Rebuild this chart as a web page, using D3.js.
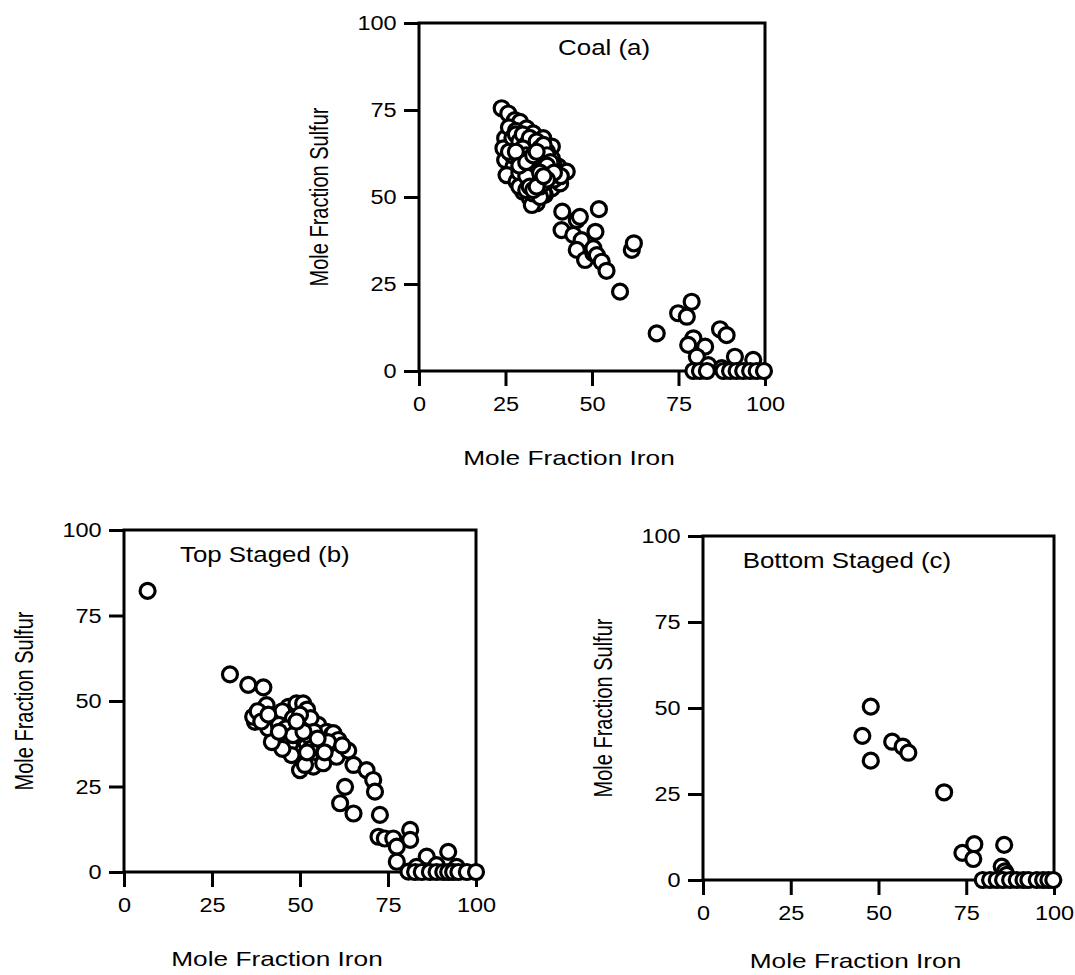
<!DOCTYPE html>
<html>
<head>
<meta charset="utf-8">
<script src="https://cdn.jsdelivr.net/npm/d3@7"></script>
<style>
  html, body { margin: 0; padding: 0; background: #fff; }
  svg { display: block; }
  text { font-family: "Liberation Sans", Arial, Helvetica, sans-serif; fill: #000; }
</style>
</head>
<body>
<svg id="chart" width="1075" height="975"></svg>
<script>
// values (mole fraction, %)
var coalIron = [
  23.9, 25.8, 27.7, 29.2, 29.7, 31.1, 33, 35.9, 32.1, 24.9, 24.4, 28.2, 34, 36.4, 38.4, 38.4,
  24.9, 29.2, 31.6, 34, 36.9, 40.3, 42.7, 27.3, 25.3, 30.1, 35, 33, 28.2, 34.5, 38.4, 40.8,
  30.1, 36.4, 32.1, 34, 32.6, 31, 33, 35, 37, 32, 34, 36, 38, 30, 33, 36, 39, 31,
  26, 27, 28, 30, 31, 32, 33, 34, 35, 36, 37, 39, 35, 33, 31, 29, 27, 26, 30, 32,
  34, 37, 39, 41, 36, 33, 35, 29, 31,
  28, 29, 30, 31, 32, 33, 34, 35, 36, 37, 38, 30, 31, 32, 33, 34, 35, 36, 37, 38,
  39, 32, 33, 34, 35, 36, 37, 31, 32, 33, 34, 29, 30, 28, 29, 31, 35, 36, 33, 34,
  41.4, 45.6, 52, 46.5, 41.2, 44.6, 47, 45.6, 48, 50.4, 50.4, 51.4, 52.8, 54.2, 51,
  61.5, 62.1, 58.1, 68.7, 74.9, 77.4, 78.8, 79.3, 77.8, 82.7, 80.3, 83.6, 87, 88.9, 91.3, 96.6, 87.5,
  79.3, 81.2, 83.2, 88, 89.9, 91.8, 93.7, 95.7, 97.6, 99.7
];
var coalSulfur = [
  75.5, 74, 72.1, 71.6, 68.8, 69.7, 68.3, 66.9, 65.9, 66.9, 64, 64.5, 62.1, 63, 64.5, 61.1,
  60.6, 60.2, 60.2, 59, 59.2, 58.7, 57.3, 58.7, 56.3, 56.3, 56.8, 54.9, 54.4, 52.5, 52.5, 53.9,
  51.5, 50.6, 49.6, 48.2, 47.7, 63, 61, 64, 61, 57, 58, 55, 57, 62, 66, 53, 55, 54,
  70, 67, 69, 66, 67, 63, 64, 65, 62, 60, 63, 59, 58, 59, 58, 57, 62, 63, 59, 55,
  56, 57, 58, 56, 51, 51, 50, 53, 52,
  68, 66, 68, 65, 67, 63, 66, 64, 65, 62, 60, 64, 62, 61, 60, 61, 60, 58, 59, 56,
  57, 58, 57, 55, 53, 54, 55, 56, 53, 52, 53, 61, 60, 63, 59, 60, 57, 56, 62, 63,
  45.8, 43.4, 46.5, 44.3, 40.5, 39.1, 37.6, 34.8, 31.9, 33.8, 35.3, 33.3, 31.4, 28.8, 40,
  34.8, 36.7, 22.8, 10.8, 16.6, 15.6, 19.9, 9.4, 7.5, 7, 4.1, 1.7, 12, 10.3, 4.1, 3.2, 0.8,
  0, 0, 0, 0, 0, 0, 0, 0, 0, 0
];

var topIron = [
  6.7, 30.1, 35.3, 39.6, 40.5, 40.5, 37.2, 36.7, 41, 43.8, 44.8, 46.7, 49, 50.9, 52,
  47.2, 47.6, 47.6, 50, 50, 51.9, 52.8, 52.8, 53.8, 51.4, 55.2, 56.6, 57.6, 59, 59.5, 60.9,
  59.5, 60.4, 63.7, 65.2, 62.8, 61.4, 65.2, 68.9, 70.8, 71.3, 72.7,
  43, 45, 48, 49, 53, 54, 56, 58, 62, 45, 44, 38, 42,
  46, 48, 50, 51, 53, 55, 57, 39, 41, 44, 49, 52,
  72.3, 74.1, 76.5, 81.3, 81.3, 77.5, 77.5, 86, 92.1, 80.8, 83.1, 88.8, 94.5,
  82.7, 84.6, 86.9, 88.8, 90.7, 92.1, 93.5, 95, 97.4, 100
];
var topSulfur = [
  82.2, 57.8, 54.7, 54, 48.8, 45.9, 43.9, 45.4, 42, 39.1, 44.9, 48.3, 49.3, 49.3, 47.5,
  37.6, 34.2, 41.5, 43.5, 29.8, 37.6, 39.6, 33.7, 30.8, 31.3, 43, 31.8, 41, 40.1, 40.6, 38.6,
  35.7, 33.7, 35.5, 31.3, 24.9, 20.1, 17.1, 29.8, 26.9, 23.5, 16.7,
  45, 47, 45, 40, 45, 41, 37, 38, 37, 36, 43, 47, 38,
  42, 40, 46, 41, 36, 39, 35, 44, 46, 41, 44, 35,
  10.3, 9.8, 9.8, 12.3, 9.4, 7.4, 3, 4.5, 5.9, 0.1, 1.5, 2, 1.5,
  0, 0, 0, 0, 0, 0, 0, 0, 0, 0
];

var bottomIron = [
  47.8, 45.4, 47.8, 53.9, 56.9, 58.5, 68.7, 73.9, 77.3, 77, 85.8, 85.1, 86, 86.5,
  79.7, 81.8, 83.7, 85.5, 87.5, 89.4, 91.3, 92.7, 95.1, 96.9, 98.4, 99.8
];
var bottomSulfur = [
  50.4, 41.9, 34.7, 40.2, 38.8, 37, 25.5, 7.9, 10.4, 6.1, 10.2, 3.9, 2.5, 1.5,
  0, 0, 0, 0, 0, 0, 0, 0, 0, 0, 0, 0
];

var tickValues = [0, 25, 50, 75, 100];
var titles = ['Coal (a)', 'Top Staged (b)', 'Bottom Staged (c)'];
var xTitle = 'Mole Fraction Iron';
var yTitle = 'Mole Fraction Sulfur';

// layout of the three panels (pixel frame of each plot)
var panels = [
  { left: 419, right: 765, top: 23, bottom: 371, titleAt: 53.5, xLabelGap: 86, iron: coalIron, sulfur: coalSulfur },
  { left: 124, right: 476, top: 530, bottom: 872, titleAt: 40, xLabelGap: 86, iron: topIron, sulfur: topSulfur },
  { left: 703, right: 1054, top: 536, bottom: 880, titleAt: 41, xLabelGap: 80, iron: bottomIron, sulfur: bottomSulfur }
];

var svg = d3.select('#chart');

// the scan is wider than tall, so text gets a horizontal stretch
function addLabel(g, x, y, str, size, stretch, rotate) {
  g.append('text')
    .attr('transform', 'translate(' + x + ',' + y + ') scale(' + stretch + ',1)' + (rotate ? ' rotate(-90)' : ''))
    .attr('text-anchor', 'middle')
    .attr('dominant-baseline', 'central')
    .style('font-size', size + 'px')
    .text(str);
}

panels.forEach(function(p, i) {
  var x = d3.scaleLinear().domain([0, 100]).range([p.left, p.right]);
  var y = d3.scaleLinear().domain([0, 100]).range([p.bottom, p.top]);
  var g = svg.append('g');

  var xAxis = g.append('g')
    .attr('transform', 'translate(0,' + p.bottom + ')')
    .call(d3.axisBottom(x).tickValues(tickValues).tickSize(15).tickPadding(10).tickSizeOuter(0));
  var yAxis = g.append('g')
    .attr('transform', 'translate(' + p.left + ',0)')
    .call(d3.axisLeft(y).tickValues(tickValues).tickSize(15).tickPadding(5).tickSizeOuter(0));

  [xAxis, yAxis].forEach(function(a) {
    a.select('.domain').remove();
    a.selectAll('line').attr('stroke', '#000').attr('stroke-width', 3);
    a.selectAll('text')
      .style('font-size', '21px')
      .style('fill', '#000')
      .attr('transform', 'scale(1.12,1)');
  });

  g.append('rect')
    .attr('x', x(0)).attr('y', y(100))
    .attr('width', x(100) - x(0)).attr('height', y(0) - y(100))
    .attr('fill', 'none').attr('stroke', '#000').attr('stroke-width', 3);

  g.selectAll('circle')
    .data(p.iron.map(function(v, k) { return [v, p.sulfur[k]]; }))
    .enter().append('circle')
    .attr('cx', function(d) { return x(d[0]); })
    .attr('cy', function(d) { return y(d[1]); })
    .attr('r', 7.5)
    .attr('fill', '#fff')
    .attr('stroke', '#000')
    .attr('stroke-width', 3.2);

  addLabel(g, x(p.titleAt), p.top + 24, titles[i], 22.5, 1.15, false);
  addLabel(g, (p.left + p.right) / 2 - 23, p.bottom + p.xLabelGap, xTitle, 21, 1.25, false);
  addLabel(g, p.left - 100, (p.top + p.bottom) / 2, yTitle, 20, 1.3, true);
});
</script>
</body>
</html>
